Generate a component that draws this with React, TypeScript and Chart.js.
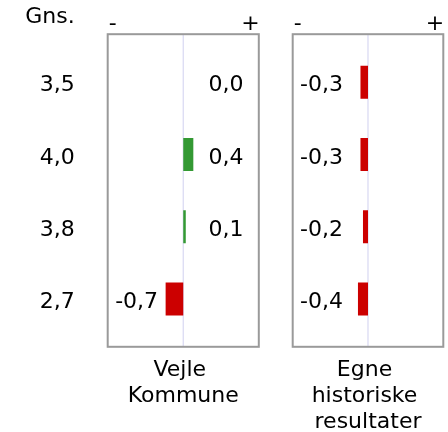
import { useEffect, useRef } from "react";
import { Chart, registerables } from "chart.js";

Chart.register(...registerables);

// ---- data ----
const rowIndex = [0, 1, 2, 3];
const gnsHeader = "Gns.";
const gnsValues = [3.5, 4.0, 3.8, 2.7];
const vejleValues = [0.0, 0.4, 0.1, -0.7];
const egneValues = [-0.3, -0.3, -0.2, -0.4];
const vejleTitle = ["Vejle ", "Kommune"];
const egneTitle = ["Egne ", "historiske ", "resultater"];
const signLabels = ["-", "+"];
const axisMin = -3;
const axisMax = 3;
const labelOffset = 1; // value units away from zero where value labels sit

const FONT = '22px "DejaVu Sans"';
const GREEN = "#339933";
const RED = "#cc0000";
const TEXT_DROP = 9; // baseline below row centre

const fmt = (v: number) => v.toFixed(1).replace(".", ",");

function buildChart(
  canvas: HTMLCanvasElement,
  values: number[],
  title: string[],
  padding: { left: number; right: number; top: number; bottom: number },
  showGns: boolean
) {
  const decor = {
    id: "decor",
    beforeDatasetsDraw(chart: any) {
      const { ctx, chartArea: a, scales } = chart;
      const x0 = scales.x.getPixelForValue(0);
      ctx.save();
      ctx.strokeStyle = "#d8d8f2";
      ctx.lineWidth = 1.2;
      ctx.beginPath();
      ctx.moveTo(x0, a.top);
      ctx.lineTo(x0, a.bottom);
      ctx.stroke();
      ctx.restore();
    },
    afterDatasetsDraw(chart: any) {
      const { ctx, chartArea: a, scales } = chart;
      const xs = scales.x;
      const ys = scales.y;
      const x0 = xs.getPixelForValue(0);
      ctx.save();
      // frame
      ctx.strokeStyle = "#9a9a9a";
      ctx.lineWidth = 2;
      ctx.strokeRect(a.left, a.top, a.right - a.left, a.bottom - a.top);

      ctx.fillStyle = "#000";
      ctx.font = FONT;
      ctx.textBaseline = "alphabetic";

      // value labels
      values.forEach((v, i) => {
        const y = ys.getPixelForValue(rowIndex[i]) + TEXT_DROP;
        if (v < 0) {
          ctx.textAlign = "right";
          ctx.fillText(fmt(v), xs.getPixelForValue(-labelOffset), y);
        } else {
          ctx.textAlign = "left";
          ctx.fillText(fmt(v), xs.getPixelForValue(labelOffset), y);
        }
      });

      // sign labels
      ctx.textAlign = "left";
      ctx.fillText(signLabels[0], a.left + 1, a.top - 4);
      ctx.textAlign = "right";
      ctx.fillText(signLabels[1], a.right + 1, a.top - 4);

      // title under the panel
      ctx.textAlign = "center";
      title.forEach((line, i) => {
        ctx.fillText(line, x0, a.bottom + 29 + i * 26);
      });

      // Gns. column
      if (showGns) {
        const gx = a.left - 33;
        ctx.textAlign = "right";
        ctx.fillText(gnsHeader, gx, a.top - 11);
        gnsValues.forEach((g, i) => {
          ctx.fillText(fmt(g), gx, ys.getPixelForValue(rowIndex[i]) + TEXT_DROP);
        });
      }
      ctx.restore();
    },
  };

  return new Chart(canvas, {
    type: "bar",
    data: {
      datasets: [
        {
          data: values.map((v, i) => ({ x: v, y: rowIndex[i] })) as any,
          backgroundColor: values.map((v) => (v >= 0 ? GREEN : RED)),
          borderWidth: 0,
          inflateAmount: 0,
          barThickness: 33,
        },
      ],
    },
    options: {
      indexAxis: "y",
      animation: false,
      responsive: false,
      devicePixelRatio: 1,
      layout: { padding },
      plugins: {
        legend: { display: false },
        tooltip: { enabled: false },
        title: { display: false },
      },
      scales: {
        x: {
          type: "linear",
          min: axisMin,
          max: axisMax,
          offset: false,
          display: false,
        },
        y: {
          type: "linear",
          min: -0.665,
          max: 3.66,
          reverse: true,
          offset: false,
          display: false,
        },
      },
    },
    plugins: [decor],
  });
}

export default function App() {
  const c1 = useRef<HTMLCanvasElement>(null);
  const c2 = useRef<HTMLCanvasElement>(null);

  useEffect(() => {
    const ch1 = buildChart(
      c1.current!,
      vejleValues,
      vejleTitle,
      { left: 107.7, right: 448 - 258.8, top: 34.2, bottom: 432 - 346.8 },
      true
    );
    const ch2 = buildChart(
      c2.current!,
      egneValues,
      egneTitle,
      { left: 292.7, right: 448 - 443.3, top: 34.2, bottom: 432 - 346.8 },
      false
    );
    return () => {
      ch1.destroy();
      ch2.destroy();
    };
  }, []);

  const cs: React.CSSProperties = {
    position: "absolute",
    left: 0,
    top: 0,
    width: 448,
    height: 432,
  };

  return (
    <div
      style={{
        position: "absolute",
        left: 0,
        top: 0,
        width: 448,
        height: 432,
        background: "#fff",
      }}
    >
      <canvas ref={c1} width={448} height={432} style={cs} />
      <canvas ref={c2} width={448} height={432} style={cs} />
    </div>
  );
}
